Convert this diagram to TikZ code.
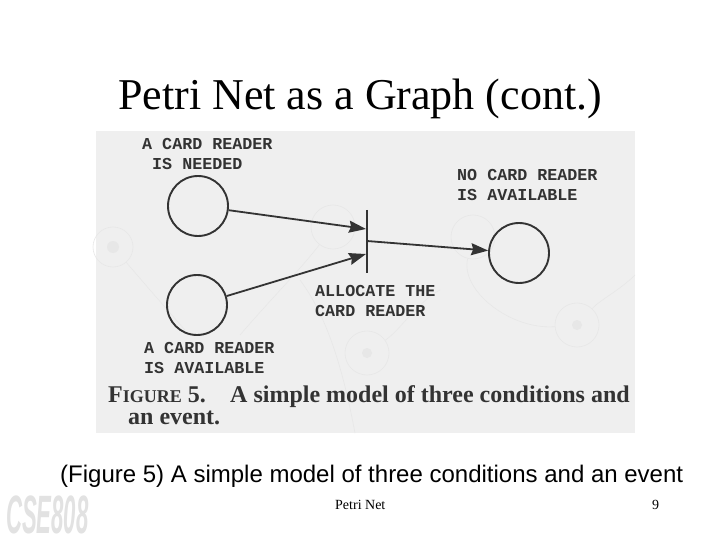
\documentclass[tikz,border=0pt]{standalone}
\usepackage{fontspec}
\setmainfont{Liberation Serif}
\setsansfont{Liberation Sans}
\setmonofont{Liberation Mono}
\usetikzlibrary{arrows.meta}
\definecolor{scan}{HTML}{EFEFEF}
\definecolor{ink}{HTML}{333333}
\definecolor{ghost}{HTML}{E7E7E7}
\definecolor{logo}{HTML}{E2E2E2}
\tikzset{
  place/.style={circle,draw=ink,line width=1.9pt,minimum size=60pt,inner sep=0pt},
  ghostplace/.style={circle,draw=ghost,line width=.6pt,minimum size=#1,inner sep=0pt},
  ghostline/.style={draw=ghost,line width=.6pt},
  flow/.style={draw=ink,line width=1.8pt,-{Stealth[length=17pt,width=12pt,inset=2pt]}},
  tlabel/.style={font=\fontsize{16.7}{20}\selectfont\ttfamily\bfseries,text=ink,align=left,inner sep=0pt,anchor=north west},
  printed/.style={font=\fontsize{24}{26}\selectfont\bfseries,text=ink,inner sep=0pt,anchor=base west},
  slidetext/.style={inner sep=0pt,anchor=base west,text=black}
}
\begin{document}
\begin{tikzpicture}[x=1pt,y=-1pt]
\useasboundingbox (0,0) rectangle (720,540);
\fill[white] (0,0) rectangle (720,540);
\fill[scan] (96,131) rectangle (635,433);

% faint show-through of the printed page
\node[ghostplace=40pt] (g1) at (113,247) {};
\node[ghostplace=44pt] (g2) at (333,227) {};
\node[ghostplace=44pt] (g3) at (473,237) {};
\node[ghostplace=44pt] (g4) at (367,353) {};
\node[ghostplace=44pt] (g5) at (577,325) {};
\fill[ghost] (g1.center) circle (6pt) (g4.center) circle (5pt) (g5.center) circle (5pt);
\draw[ghostline] (g1) -- (150,290) -- (185,330);
\draw[ghostline] (g2) .. controls (300,270) and (270,300) .. (240,335);
\draw[ghostline] (g3) .. controls (460,290) and (510,330) .. (g5);
\draw[ghostline] (g5) .. controls (600,300) and (620,290) .. (635,275);
\draw[ghostline] (300,280) .. controls (330,320) and (345,380) .. (355,433);
\draw[ghostline] (g4) .. controls (400,330) and (420,300) .. (440,290);

% Petri net
\node[place] (need) at (198,206) {};
\node[place] (avail) at (197,305) {};
\node[place] (none) at (519,253) {};
\coordinate (bartop) at (367,210);
\coordinate (barbot) at (367,273);
\coordinate (in1) at (366,229);
\coordinate (in2) at (366,254);
\coordinate (out) at (367,241);
\draw[ink,line width=2.4pt] (bartop) -- (barbot);
\draw[flow] (need) -- (in1);
\draw[flow] (avail) -- (in2);
\draw[flow] (out) -- (none);

\node[tlabel] (l1) at (142,138) {A CARD READER\\\ IS NEEDED};
\node[tlabel] (l2) at (457,169) {NO CARD READER\\IS AVAILABLE};
\node[tlabel] (l3) at (315,285) {ALLOCATE THE\\CARD READER};
\node[tlabel] (l4) at (144,342) {A CARD READER\\IS AVAILABLE};

\node[printed] (fig) at (108,402) {F{\fontsize{18}{20}\selectfont IGURE} 5.};
\node[printed] (cap1) at (230,402) {A simple model of three conditions and};
\node[printed] (cap2) at (128,424) {an event.};

% slide text
\node[slidetext,font=\fontsize{44}{48}\selectfont] (title) at (118,110) {Petri Net as a Graph (cont.)};
\node[slidetext,font=\fontsize{24}{26}\selectfont\sffamily] (caption) at (60,482) {(Figure 5) A simple model of three conditions and an event};
\node[slidetext,font=\fontsize{14}{16}\selectfont] (foot) at (335,509) {Petri Net};
\node[slidetext,font=\fontsize{14}{16}\selectfont] (num) at (652,509) {9};
\node[inner sep=0pt,anchor=base west,text=logo,font=\fontsize{36}{40}\selectfont\sffamily\bfseries\itshape,xscale=.615,yscale=1.5,transform shape] (cse) at (6,533) {CSE808};
\end{tikzpicture}
\end{document}
